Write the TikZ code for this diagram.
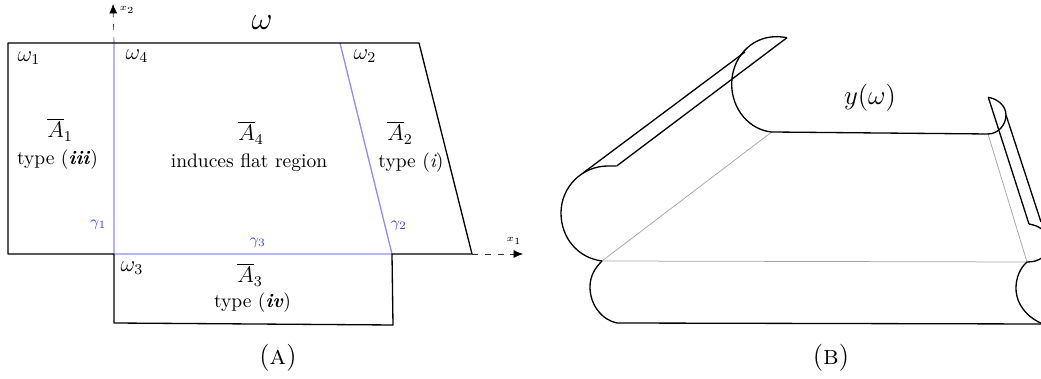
\documentclass[tikz,border=0pt]{standalone}
\usetikzlibrary{arrows.meta}
\definecolor{edgeblue}{rgb}{0.55,0.55,1}
\definecolor{labelblue}{rgb}{0.25,0.25,1}
\tikzset{
  blackline/.style={black,line width=0.7pt,line join=round},
  blueline/.style={edgeblue,line width=0.7pt},
  greyline/.style={black!35,line width=0.4pt},
  axisline/.style={black!80,line width=0.35pt,dash pattern=on 3.2pt off 3.6pt,-{Latex[length=5pt,width=4.2pt,black]}},
  lbl/.style={inner sep=0pt,outer sep=0pt,anchor=center},
  bluelbl/.style={lbl,labelblue},
  typelbl/.style={lbl,font=\fontsize{10.4}{12}\selectfont}
}
\begin{document}
\begin{tikzpicture}[x=0.533pt,y=-0.533pt]
\useasboundingbox (0,0) rectangle (1041,379);
\clip (0,0) rectangle (1041,379);
% left panel vertices
\coordinate (TL) at (8,43);
\coordinate (TR) at (419,43);
\coordinate (BR) at (472,254);
\coordinate (BL) at (8,254);
\coordinate (T1) at (114,43);
\coordinate (T2) at (340,43);
\coordinate (M1) at (114,254);
\coordinate (M2) at (392,254);
\coordinate (L1) at (114,323);
\coordinate (L2) at (393,325);
\coordinate (X1) at (523,254);
\coordinate (X2) at (113,4);
\draw[blueline] (T1) -- (M1) -- (M2) -- (T2);
\draw[blackline] (M1) -- (BL) -- (TL) -- (TR) -- (BR) -- (M2) -- (L2) -- (L1) -- cycle;
\draw[axisline] (BR) -- (X1);
\draw[axisline] (T1) -- (X2);
\node[lbl,font=\fontsize{5.5}{6}\selectfont] (x1) at (514,241) {$x_1$};
\node[lbl,font=\fontsize{5.5}{6}\selectfont] (x2) at (127,10) {$x_2$};
\node[lbl,font=\fontsize{16}{18}\selectfont] (om) at (262,23) {$\omega$};
\node[lbl,font=\large] (om1) at (29,58) {$\omega_1$};
\node[lbl,font=\large] (om4) at (137,56) {$\omega_4$};
\node[lbl,font=\large] (om2) at (365,56) {$\omega_2$};
\node[lbl,font=\large] (om3) at (132,268) {$\omega_3$};
\node[lbl,font=\large] (A1) at (60,130) {$\overline{A}_1$};
\node[typelbl] (t1) at (57.5,160) {type ($\textbf{\textit{iii}}$)};
\node[lbl,font=\large] (A4) at (251,133) {$\overline{A}_4$};
\node[typelbl] (t4) at (249,163) {induces flat region};
\node[lbl,font=\large] (A2) at (400,133) {$\overline{A}_2$};
\node[typelbl] (t2) at (411,163) {type ($\textit{i}$)};
\node[lbl,font=\large] (A3) at (250,275) {$\overline{A}_3$};
\node[typelbl] (t3) at (252.5,303) {type ($\textbf{\textit{iv}}$)};
\node[bluelbl,font=\footnotesize] (g1) at (98.5,225) {$\gamma_1$};
\node[bluelbl,font=\footnotesize] (g2) at (399,226) {$\gamma_2$};
\node[bluelbl,font=\footnotesize] (g3) at (258,243) {$\gamma_3$};
\node[lbl,font=\Large] (capA) at (278,358) {(\textsc{a})};
% right panel
\coordinate (P) at (602,261);
\coordinate (Q) at (1027,262);
\coordinate (R) at (771.7,132);
\coordinate (S) at (988,134);
\draw[greyline] (P) -- (Q) -- (S);
\draw[greyline] (P) -- (R);
\coordinate (LA) at (616.7,166);
\coordinate (LB) at (583,173);
\coordinate (TA) at (787,37.7);
\coordinate (TB) at (745,52);
\coordinate (RA) at (988.3,97.3);
\coordinate (RB) at (1006,115);
\coordinate (RC) at (1029,224);
\coordinate (RD) at (1041,222);
\coordinate (B1) at (617,323);
\coordinate (B2) at (1041,324);
\draw[blackline] (LA) .. controls (613,166) and (610,166) .. (608,166)
  .. controls (582,166) and (561,187) .. (561,213)
  .. controls (561,238) and (578,258) .. (P);
\draw[blackline] (LB) -- (TB);
\draw[blackline] (LA) -- (TA);
\draw[blackline] (TA) .. controls (783,37) and (780,36.7) .. (776,36.7)
  .. controls (751,36.7) and (731.7,58) .. (731.7,84)
  .. controls (731.7,110) and (750,130) .. (R);
\draw[blackline] (R) -- (S);
\draw[blackline] (RA) .. controls (998,99) and (1006,106) .. (RB)
  .. controls (1006,125) and (998,134) .. (S);
\draw[blackline] (RA) -- (RC);
\draw[blackline] (RB) -- (RD);
\draw[blackline] (RC) .. controls (1034,225) and (1038,226) .. (1043,230);
\draw[blackline] (Q) .. controls (1033,262) and (1038,261) .. (1043,257);
\draw[blackline] (P) .. controls (594,269) and (590,277) .. (590,287)
  .. controls (590,305) and (602,320) .. (B1) -- (B2);
\draw[blackline] (Q) .. controls (1020,268) and (1016,278) .. (1016,288)
  .. controls (1016,305) and (1028,318) .. (1043,324);
\node[lbl,font=\Large] (yom) at (870,98) {$y(\omega)$};
\node[lbl,font=\Large] (capB) at (831,358) {(\textsc{b})};
\end{tikzpicture}
\end{document}
